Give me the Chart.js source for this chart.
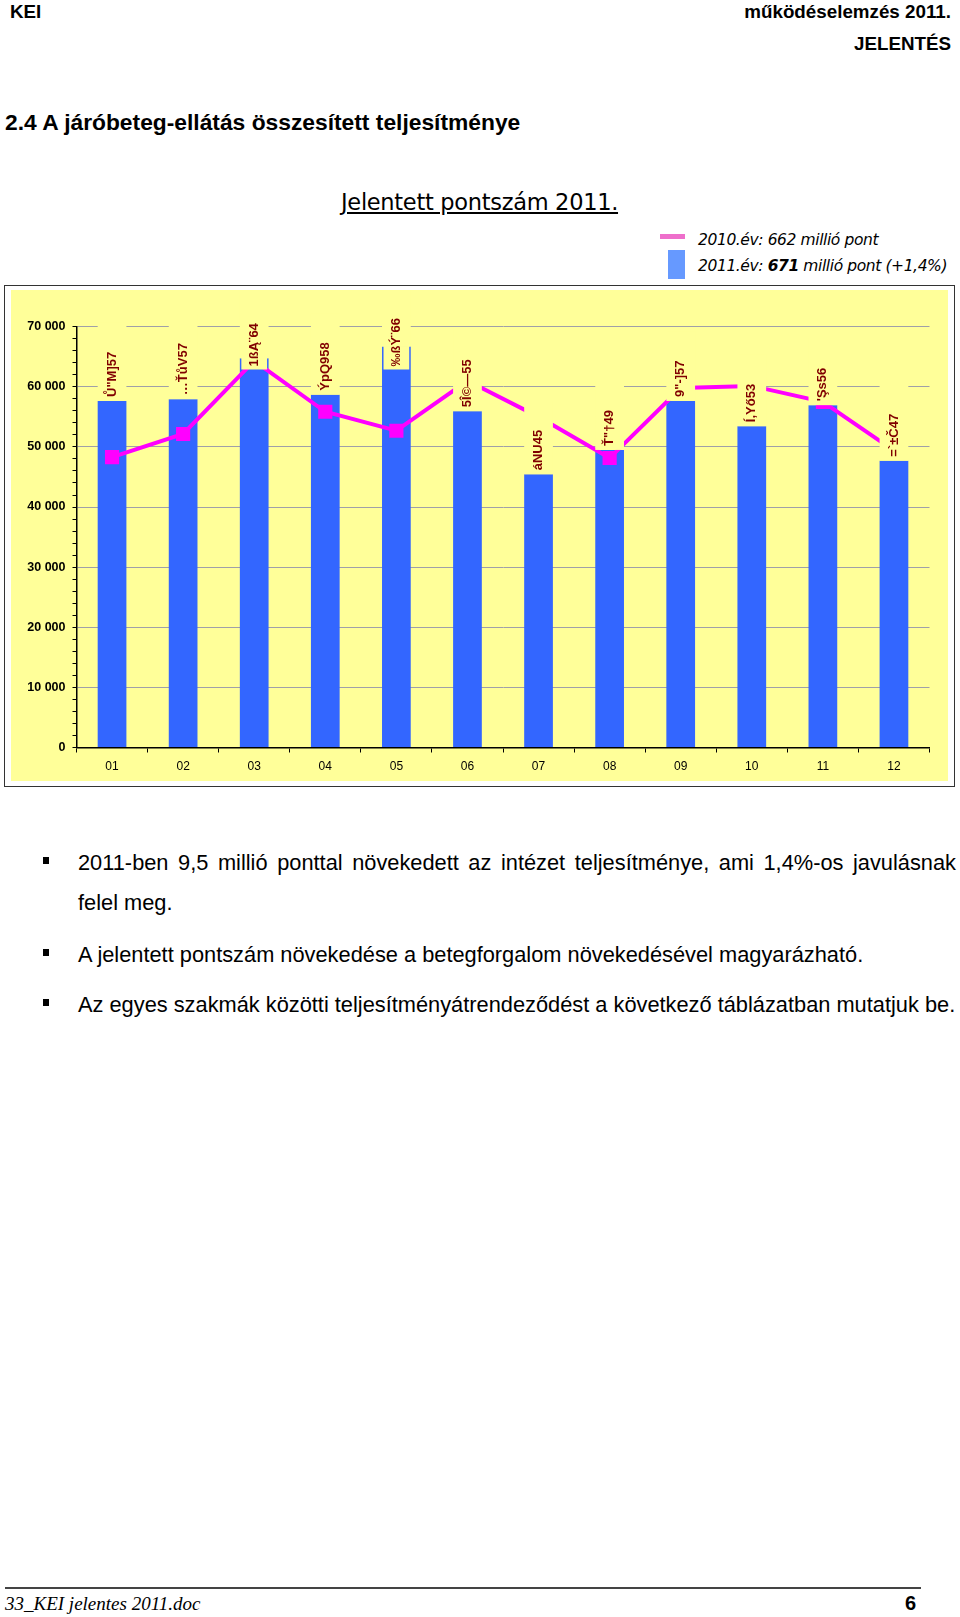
<!DOCTYPE html>
<html>
<head>
<meta charset="utf-8">
<script src="https://cdn.jsdelivr.net/npm/chart.js@4.4.0/dist/chart.umd.min.js"></script>
<style>
  body { margin: 0; background: #fff; }
  #page { position: relative; width: 960px; height: 1617px; font-family: "Liberation Sans", Arial, sans-serif; color: #000; }
  .abs { position: absolute; white-space: nowrap; line-height: 1; }
  .hdr { font-weight: bold; font-size: 18.8px; }
  .tah { font-family: "DejaVu Sans", sans-serif; }
  .bul { font-size: 21.8px; }
  .sq { position: absolute; width: 6px; height: 7px; background: #000; }
  #chartBox { position: absolute; left: 4px; top: 285px; width: 951px; height: 502px; border: 1.5px solid #333; box-sizing: border-box; }
  #wrap { position: absolute; left: 11px; top: 290px; width: 937px; height: 491px; background: #FFFF99; }
</style>
</head>
<body>
<div id="page">
  <div class="abs hdr" style="left:10px; top:3px;">KEI</div>
  <div class="abs hdr" style="right:9px; top:3px;">működéselemzés 2011.</div>
  <div class="abs hdr" style="right:9px; top:35px;">JELENTÉS</div>
  <div class="abs" style="left:5px; top:111px; font-weight:bold; font-size:22.8px;">2.4 A járóbeteg-ellátás összesített teljesítménye</div>

  <div class="abs tah" style="left:341px; top:191px; font-size:22.5px; letter-spacing:-0.3px; text-decoration:underline;">Jelentett pontszám 2011.</div>
  <div style="position:absolute; left:660px; top:234px; width:25px; height:5px; background:#EE6FCB;"></div>
  <div style="position:absolute; left:668px; top:250px; width:17px; height:29px; background:#6699FF;"></div>
  <div class="abs tah" style="left:698px; top:233px; font-size:15.5px; font-style:italic; letter-spacing:-0.4px;">2010.év: 662 millió pont</div>
  <div class="abs tah" style="left:698px; top:259px; font-size:15.5px; font-style:italic; letter-spacing:-0.4px;">2011.év: <b>671</b> millió pont (+1,4%)</div>

  <div id="chartBox"></div>
  <div id="wrap"><canvas id="chart" width="937" height="491"></canvas></div>

  <div class="sq" style="left:43px; top:857px;"></div>
  <div class="abs bul" style="left:78px; top:843px; width:878px; white-space:normal; text-align:justify; line-height:40px;">2011-ben 9,5 millió ponttal növekedett az intézet teljesítménye, ami 1,4%-os javulásnak felel meg.</div>
  <div class="sq" style="left:43px; top:949px;"></div>
  <div class="abs bul" style="left:78px; top:944px;">A jelentett pontszám növekedése a betegforgalom növekedésével magyarázható.</div>
  <div class="sq" style="left:43px; top:999px;"></div>
  <div class="abs bul" style="left:78px; top:994px;">Az egyes szakmák közötti teljesítményátrendeződést a következő táblázatban mutatjuk be.</div>

  <div style="position:absolute; left:5px; top:1587px; width:916px; height:1.5px; background:#444;"></div>
  <div class="abs" style="left:5px; top:1594px; font-family:'Liberation Serif', serif; font-style:italic; font-size:19px;">33_KEI jelentes 2011.doc</div>
  <div class="abs" style="left:905px; top:1593px; font-weight:bold; font-size:20px;">6</div>
</div>

<script>
// hónapok
const months = ['01', '02', '03', '04', '05', '06', '07', '08', '09', '10', '11', '12'];
// 2011 jelentett pontszám (oszlopok)
const pont2011 = [57650, 57950, 64750, 58700, 66700, 55950, 45450, 49500, 57650, 53450, 56950, 47700];
// 2010 jelentett pontszám (vonal)
const pont2010 = [48300, 52150, 64300, 55850, 52700, 61000, 55000, 48150, 59800, 60150, 57500, 49400];
// oszlopcímkék, ahogy a képen megjelennek
const barLabels = ['Ů"M]57', '…ŤůV57', '1ßĄ¨64', 'ÝpQ958', '‰ßÝ¨66', '5Î©—55', 'áNU45', 'Ť"†49', '9"-]57', 'Í,Yő53', "'Şs56", '=`±Č47'];
const yTicksMajor = [0, 10000, 20000, 30000, 40000, 50000, 60000, 70000];

const YELLOW = '#FFFF99';

// címkék sárga háttérrel az oszlopok fölött
const labelPlugin = {
    id: 'barLabels',
    afterDatasetsDraw(chart) {
        const ctx = chart.ctx;
        const meta = chart.getDatasetMeta(1);
        ctx.save();
        ctx.font = 'bold 13px "Liberation Sans", Arial, sans-serif';
        meta.data.forEach((bar, i) => {
            const txt = barLabels[i];
            const w = ctx.measureText(txt).width;
            const left = bar.x - bar.width / 2;
            // túl magas oszlopnál a címke lejjebb kerül, belelóg az oszlopba
            const start = Math.max(bar.y - 4, 76.5);
            const top = start - w - 29;
            ctx.fillStyle = YELLOW;
            ctx.fillRect(left, top, bar.width, bar.y - top);
            if (start + 3 > bar.y) {
                ctx.fillRect(left + 1.5, bar.y - 0.5, bar.width - 3, start + 3 - bar.y + 0.5);
            }
            ctx.save();
            ctx.translate(bar.x, start);
            ctx.rotate(-Math.PI / 2);
            ctx.fillStyle = '#800000';
            ctx.textAlign = 'left';
            ctx.textBaseline = 'middle';
            ctx.fillText(txt, 0, 0);
            ctx.restore();
        });
        ctx.restore();
    }
};

new Chart(document.getElementById('chart'), {
    data: {
        labels: months,
        datasets: [{
            type: 'line',
            label: '2010',
            data: pont2010,
            borderColor: '#FF00FF',
            borderWidth: 4,
            backgroundColor: '#FF00FF',
            pointStyle: 'rect',
            pointRadius: 10,
            pointBorderWidth: 0,
            pointBackgroundColor: '#FF00FF',
            tension: 0,
            order: 0
        }, {
            type: 'bar',
            label: '2011',
            data: pont2011,
            backgroundColor: '#3366FF',
            borderWidth: 0,
            categoryPercentage: 1,
            barPercentage: 0.404,
            order: 1
        }]
    },
    options: {
        responsive: false,
        animation: false,
        devicePixelRatio: 1,
        layout: { padding: { top: 36.7, right: 18.5, left: 0, bottom: 0 } },
        plugins: { legend: { display: false }, tooltip: { enabled: false } },
        scales: {
            x: {
                grid: { drawOnChartArea: false, drawTicks: true, tickLength: 5, tickColor: '#000', offset: true },
                border: { color: '#000', width: 1.5 },
                ticks: { color: '#000', padding: 7, maxRotation: 0, font: { family: '"Liberation Sans", Arial', size: 12 } },
                afterFit: s => { s.height = 33.5; }
            },
            y: {
                min: 0,
                max: 70000,
                grid: {
                    color: c => (c.tick && yTicksMajor.includes(c.tick.value)) ? '#A0A0A8' : 'rgba(0,0,0,0)',
                    tickColor: '#000',
                    tickLength: 4
                },
                border: { color: '#000', width: 1.5 },
                ticks: {
                    stepSize: 2000,
                    autoSkip: false,
                    padding: 7,
                    color: '#000',
                    font: { family: '"Liberation Sans", Arial', size: 12.5, weight: 'bold' },
                    callback: v => yTicksMajor.includes(v) ? String(v).replace(/\B(?=(\d{3})+(?!\d))/g, ' ') : ''
                },
                afterFit: s => { s.width = 65.5; }
            }
        }
    },
    plugins: [labelPlugin]
});
</script>
</body>
</html>
